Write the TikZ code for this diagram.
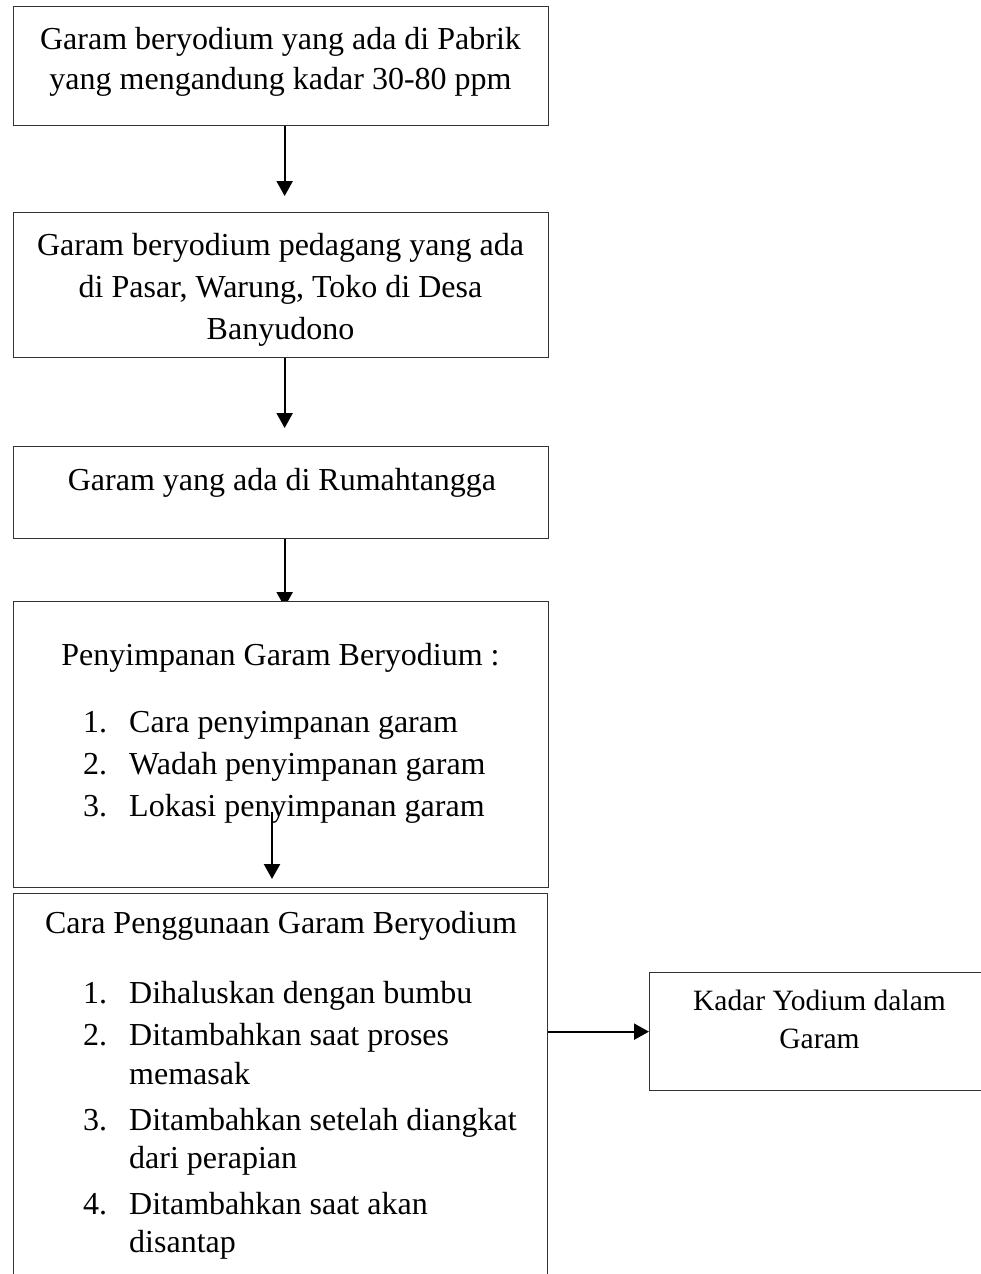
\documentclass[tikz,border=0pt]{standalone}
\usepackage{fontspec}
\setmainfont{Liberation Serif}
\usetikzlibrary{arrows.meta,backgrounds}
\begin{document}
\begin{tikzpicture}[x=1pt,y=-1pt,
  box/.style={draw=black!80, line width=1.3pt, fill=white, inner sep=0pt, anchor=north west},
  txt/.style={anchor=base, inner sep=0pt, font=\fontsize{32}{40}\selectfont},
  stxt/.style={anchor=base, inner sep=0pt, font=\fontsize{29.5}{38}\selectfont},
  num/.style={anchor=base west, inner sep=0pt, font=\fontsize{32}{40}\selectfont},
  arr/.style={line width=2.2pt, -{Triangle[length=15pt,width=16pt]}}]
\useasboundingbox (0,0) rectangle (981,1274);
% boxes
\node[box, minimum width=535pt, minimum height=119pt] (b1) at (13,6) {};
\node[box, minimum width=535pt, minimum height=145pt] (b2) at (13,212) {};
\node[box, minimum width=535pt, minimum height=92pt] (b3) at (13,446) {};
\node[box, minimum width=535pt, minimum height=286pt] (b4) at (13,601) {};
\node[box, minimum width=534pt, minimum height=400pt] (b5) at (13,893) {};
\node[box, minimum width=341pt, minimum height=118pt] (rb) at (649,972) {};
% texts
\node[txt] (t1a) at (280.5,49) {Garam beryodium yang ada di Pabrik};
\node[txt] (t1b) at (280.5,89) {yang mengandung kadar 30-80 ppm};
\node[txt] (t2a) at (280.5,255) {Garam beryodium pedagang yang ada};
\node[txt] (t2b) at (280.5,297) {di Pasar, Warung, Toko di Desa};
\node[txt] (t2c) at (280.5,339) {Banyudono};
\node[txt] (t3) at (282,490) {Garam yang ada di Rumahtangga};
\node[txt] (t4) at (280.5,665) {Penyimpanan Garam Beryodium :};
\node[num] (t4n1) at (83,732) {1.};
\node[num] (t4i1) at (129,732) {Cara penyimpanan garam};
\node[num] (t4n2) at (83,774) {2.};
\node[num] (t4i2) at (129,774) {Wadah penyimpanan garam};
\node[num] (t4n3) at (83,816) {3.};
\node[num] (t4i3) at (129,816) {Lokasi penyimpanan garam};
\node[txt] (t5) at (281,933) {Cara Penggunaan Garam Beryodium};
\node[num] (t5n1) at (83,1003) {1.};
\node[num] (t5i1) at (129,1003) {Dihaluskan dengan bumbu};
\node[num] (t5n2) at (83,1045) {2.};
\node[num] (t5i2) at (129,1045) {Ditambahkan saat proses};
\node[num] (t5i2b) at (129,1084) {memasak};
\node[num] (t5n3) at (83,1130) {3.};
\node[num] (t5i3) at (129,1130) {Ditambahkan setelah diangkat};
\node[num] (t5i3b) at (129,1168) {dari perapian};
\node[num] (t5n4) at (83,1214) {4.};
\node[num] (t5i4) at (129,1214) {Ditambahkan saat akan};
\node[num] (t5i4b) at (129,1252) {disantap};
\node[stxt] (tra) at (819.5,1010) {Kadar Yodium dalam};
\node[stxt] (trb) at (819.5,1048) {Garam};
% connectors
\draw[arr, shorten >=16pt] ([xshift=3.5pt]b1.south) -- ([xshift=3.5pt]b2.north);
\draw[arr, shorten >=18pt] ([xshift=3.5pt]b2.south) -- ([xshift=3.5pt]b3.north);
\begin{pgfonlayer}{background}
\fill[white] (0,0) rectangle (981,1274);
\draw[arr, shorten >=-6pt] ([xshift=3.5pt]b3.south) -- ([xshift=3.5pt]b4.north);
\end{pgfonlayer}
\coordinate (a4) at (272,812);
\draw[arr, shorten >=14pt] (a4) -- (a4 |- b5.north);
\draw[arr] (b5.east |- rb.west) -- (rb.west);
\end{tikzpicture}
\end{document}
